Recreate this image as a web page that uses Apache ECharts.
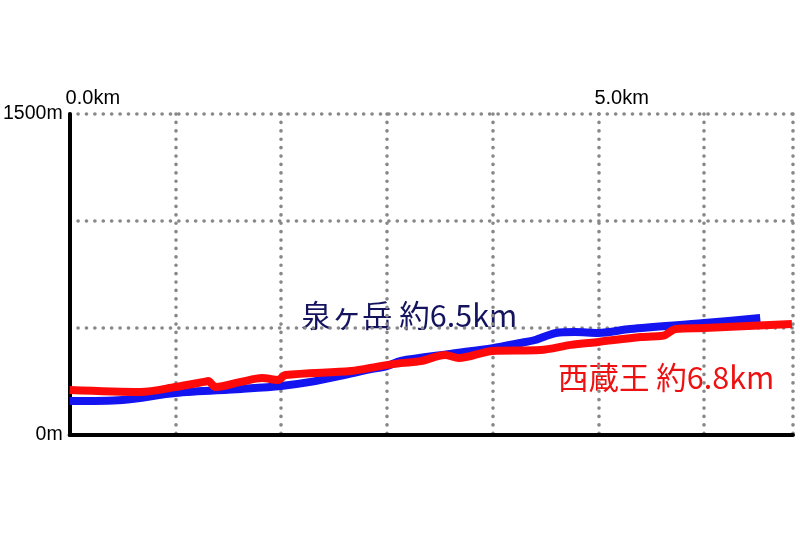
<!DOCTYPE html>
<html>
<head>
<meta charset="utf-8">
<script src="https://cdn.jsdelivr.net/npm/echarts@6/dist/echarts.min.js"></script>
<style>html,body{margin:0;padding:0;background:#fff;}#c{width:800px;height:544px;}</style>
</head>
<body>
<div id="c"></div>
<script>
var izumiName = '泉ヶ岳 約6.5km';
var izumiKm = [0, 0.5, 1.0, 1.62, 2.0, 2.28, 2.56, 2.85, 3.0, 3.13, 3.6, 4.0, 4.26, 4.4, 4.6, 4.78, 5.0, 5.3, 6.0, 6.53];
var izumiM  = [159, 164, 196, 215, 229, 248, 276, 308, 322, 346, 379, 406, 430, 444, 477, 481, 477, 495, 523, 547];

var zaoName = '西蔵王 約6.8km';
var zaoKm = [0, 0.67, 1.0, 1.27, 1.31, 1.38, 1.62, 1.82, 1.97, 2.04, 2.66, 2.94, 3.13, 3.32, 3.55, 3.68, 4.0, 4.45, 4.74, 5.0, 5.4, 5.59, 5.63, 5.73, 6.0, 6.83];
var zaoM  = [210, 201, 224, 248, 252, 224, 248, 266, 257, 280, 299, 322, 336, 345, 374, 360, 393, 397, 421, 435, 458, 463, 467, 495, 500, 519];

var xMax = 6.84;
var xTickLabels = {0: '0.0km', 5: '5.0km'};
var yTickLabels = {0: '0m', 1500: '1500m'};

function pairs(xs, ys) { return xs.map(function (x, i) { return [x, ys[i]]; }); }

var dotted = { color: '#888888', width: 3.6, type: [0.1, 8.3], cap: 'round' };

var chart = echarts.init(document.getElementById('c'), null, { renderer: 'canvas' });
chart.setOption({
  animation: false,
  backgroundColor: '#ffffff',
  grid: { left: 69, right: 7, top: 114, bottom: 109, containLabel: false },
  xAxis: [{
    type: 'value', position: 'top', min: 0, max: xMax, interval: 1,
    axisLine: { show: false }, axisTick: { show: false },
    splitLine: { show: true, lineStyle: dotted },
    axisLabel: {
      show: true, align: 'left', margin: 6, padding: [0, 0, 0, -4],
      fontFamily: 'Liberation Sans, Arial, sans-serif', fontSize: 20, color: '#000',
      formatter: function (v) { return xTickLabels[v] || ''; }
    }
  }, {
    type: 'value', position: 'bottom', min: 0, max: xMax,
    axisLine: { show: true, onZero: false, lineStyle: { color: '#000', width: 4 } },
    axisTick: { show: false }, axisLabel: { show: false }, splitLine: { show: false }
  }],
  yAxis: {
    type: 'value', min: 0, max: 1500, interval: 500,
    axisLine: { show: true, lineStyle: { color: '#000', width: 4 } },
    axisTick: { show: false },
    splitLine: { show: true, lineStyle: dotted },
    axisLabel: {
      show: true, margin: 7,
      fontFamily: 'Liberation Sans, Arial, sans-serif', fontSize: 19.5, color: '#000',
      formatter: function (v) { return yTickLabels[v] || ''; }
    }
  },
  series: [{
    name: izumiName, type: 'line', xAxisIndex: 0, data: pairs(izumiKm, izumiM),
    showSymbol: false, smooth: 0.3,
    lineStyle: { color: '#1414f0', width: 8, cap: 'butt', join: 'round' }
  }, {
    name: zaoName, type: 'line', xAxisIndex: 0, data: pairs(zaoKm, zaoM),
    showSymbol: false, smooth: 0.3,
    lineStyle: { color: '#ff0a0a', width: 8, cap: 'butt', join: 'round' }
  }],
  graphic: [{
    type: 'text', left: 301, top: 300,
    style: { text: izumiName, fill: '#14145e', font: '30.5px "Noto Sans CJK JP", sans-serif' }
  }, {
    type: 'text', left: 558, top: 362,
    style: { text: zaoName, fill: '#ee1111', font: '30.5px "Noto Sans CJK JP", sans-serif' }
  }]
});
</script>
</body>
</html>
